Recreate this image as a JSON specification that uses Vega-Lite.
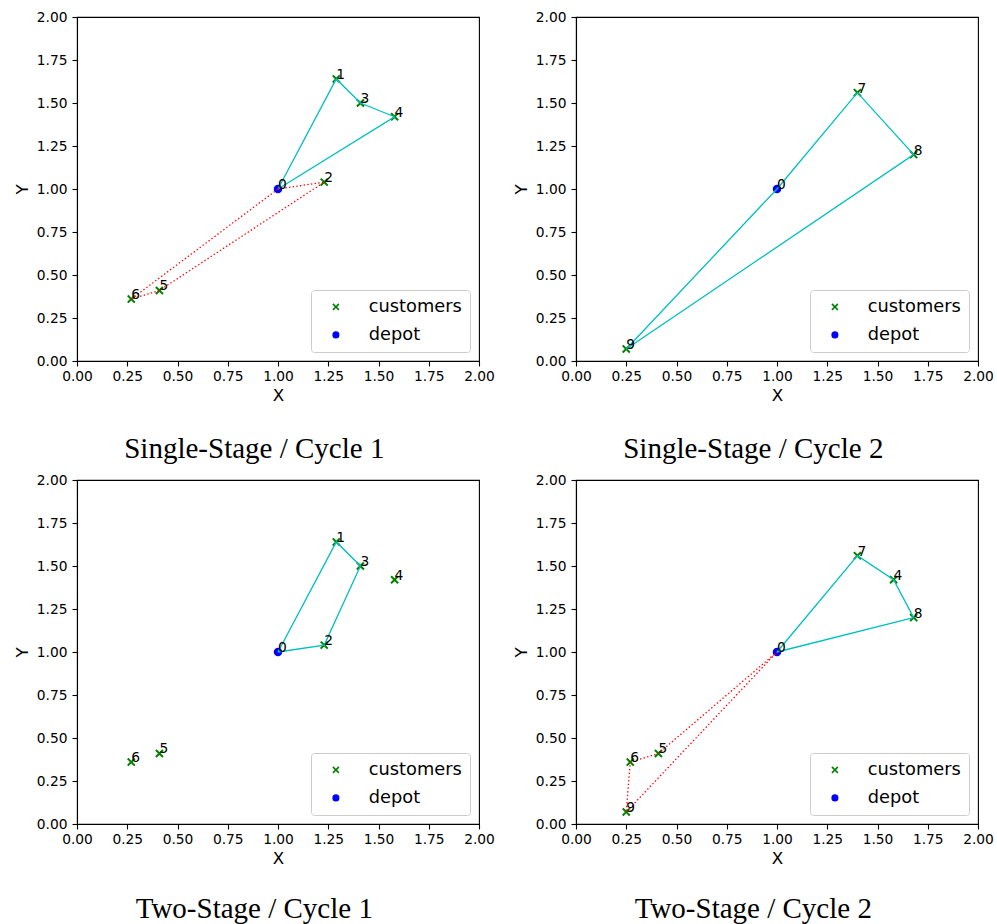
{
  "$schema": "https://vega.github.io/schema/vega-lite/v6.json",
  "background": "white",
  "padding": {"left": 13, "top": 9, "right": 2, "bottom": 0},
  "datasets": {
    "pts": [
      {"panel": "SS1", "id": "0", "kind": "depot", "x": 1.0, "y": 1.0},
      {"panel": "SS1", "id": "1", "kind": "customers", "x": 1.29, "y": 1.64},
      {"panel": "SS1", "id": "2", "kind": "customers", "x": 1.23, "y": 1.04},
      {"panel": "SS1", "id": "3", "kind": "customers", "x": 1.41, "y": 1.50},
      {"panel": "SS1", "id": "4", "kind": "customers", "x": 1.58, "y": 1.42},
      {"panel": "SS1", "id": "5", "kind": "customers", "x": 0.41, "y": 0.41},
      {"panel": "SS1", "id": "6", "kind": "customers", "x": 0.27, "y": 0.36},
      {"panel": "SS2", "id": "0", "kind": "depot", "x": 1.0, "y": 1.0},
      {"panel": "SS2", "id": "7", "kind": "customers", "x": 1.40, "y": 1.56},
      {"panel": "SS2", "id": "8", "kind": "customers", "x": 1.68, "y": 1.20},
      {"panel": "SS2", "id": "9", "kind": "customers", "x": 0.25, "y": 0.07},
      {"panel": "TS1", "id": "0", "kind": "depot", "x": 1.0, "y": 1.0},
      {"panel": "TS1", "id": "1", "kind": "customers", "x": 1.29, "y": 1.64},
      {"panel": "TS1", "id": "2", "kind": "customers", "x": 1.23, "y": 1.04},
      {"panel": "TS1", "id": "3", "kind": "customers", "x": 1.41, "y": 1.50},
      {"panel": "TS1", "id": "4", "kind": "customers", "x": 1.58, "y": 1.42},
      {"panel": "TS1", "id": "5", "kind": "customers", "x": 0.41, "y": 0.41},
      {"panel": "TS1", "id": "6", "kind": "customers", "x": 0.27, "y": 0.36},
      {"panel": "TS2", "id": "0", "kind": "depot", "x": 1.0, "y": 1.0},
      {"panel": "TS2", "id": "4", "kind": "customers", "x": 1.58, "y": 1.42},
      {"panel": "TS2", "id": "5", "kind": "customers", "x": 0.41, "y": 0.41},
      {"panel": "TS2", "id": "6", "kind": "customers", "x": 0.27, "y": 0.36},
      {"panel": "TS2", "id": "7", "kind": "customers", "x": 1.40, "y": 1.56},
      {"panel": "TS2", "id": "8", "kind": "customers", "x": 1.68, "y": 1.20},
      {"panel": "TS2", "id": "9", "kind": "customers", "x": 0.25, "y": 0.07}
    ],
    "routes": [
      {"panel": "SS1", "style": "solid", "route": "a", "seq": 0, "x": 1.0, "y": 1.0},
      {"panel": "SS1", "style": "solid", "route": "a", "seq": 1, "x": 1.29, "y": 1.64},
      {"panel": "SS1", "style": "solid", "route": "a", "seq": 2, "x": 1.41, "y": 1.50},
      {"panel": "SS1", "style": "solid", "route": "a", "seq": 3, "x": 1.58, "y": 1.42},
      {"panel": "SS1", "style": "solid", "route": "a", "seq": 4, "x": 1.0, "y": 1.0},
      {"panel": "SS1", "style": "dotted", "route": "b", "seq": 0, "x": 1.0, "y": 1.0},
      {"panel": "SS1", "style": "dotted", "route": "b", "seq": 1, "x": 1.23, "y": 1.04},
      {"panel": "SS1", "style": "dotted", "route": "b", "seq": 2, "x": 0.41, "y": 0.41},
      {"panel": "SS1", "style": "dotted", "route": "b", "seq": 3, "x": 0.27, "y": 0.36},
      {"panel": "SS1", "style": "dotted", "route": "b", "seq": 4, "x": 1.0, "y": 1.0},
      {"panel": "SS2", "style": "solid", "route": "a", "seq": 0, "x": 1.0, "y": 1.0},
      {"panel": "SS2", "style": "solid", "route": "a", "seq": 1, "x": 1.40, "y": 1.56},
      {"panel": "SS2", "style": "solid", "route": "a", "seq": 2, "x": 1.68, "y": 1.20},
      {"panel": "SS2", "style": "solid", "route": "a", "seq": 3, "x": 0.25, "y": 0.07},
      {"panel": "SS2", "style": "solid", "route": "a", "seq": 4, "x": 1.0, "y": 1.0},
      {"panel": "TS1", "style": "solid", "route": "a", "seq": 0, "x": 1.0, "y": 1.0},
      {"panel": "TS1", "style": "solid", "route": "a", "seq": 1, "x": 1.29, "y": 1.64},
      {"panel": "TS1", "style": "solid", "route": "a", "seq": 2, "x": 1.41, "y": 1.50},
      {"panel": "TS1", "style": "solid", "route": "a", "seq": 3, "x": 1.23, "y": 1.04},
      {"panel": "TS1", "style": "solid", "route": "a", "seq": 4, "x": 1.0, "y": 1.0},
      {"panel": "TS2", "style": "solid", "route": "a", "seq": 0, "x": 1.0, "y": 1.0},
      {"panel": "TS2", "style": "solid", "route": "a", "seq": 1, "x": 1.40, "y": 1.56},
      {"panel": "TS2", "style": "solid", "route": "a", "seq": 2, "x": 1.58, "y": 1.42},
      {"panel": "TS2", "style": "solid", "route": "a", "seq": 3, "x": 1.68, "y": 1.20},
      {"panel": "TS2", "style": "solid", "route": "a", "seq": 4, "x": 1.0, "y": 1.0},
      {"panel": "TS2", "style": "dotted", "route": "b", "seq": 0, "x": 1.0, "y": 1.0},
      {"panel": "TS2", "style": "dotted", "route": "b", "seq": 1, "x": 0.41, "y": 0.41},
      {"panel": "TS2", "style": "dotted", "route": "b", "seq": 2, "x": 0.27, "y": 0.36},
      {"panel": "TS2", "style": "dotted", "route": "b", "seq": 3, "x": 0.25, "y": 0.07},
      {"panel": "TS2", "style": "dotted", "route": "b", "seq": 4, "x": 1.0, "y": 1.0}
    ]
  },
  "columns": 2,
  "spacing": {"row": 7, "column": 17},
  "resolve": {
    "scale": {"x": "independent", "y": "independent", "color": "independent", "shape": "independent"},
    "legend": {"color": "independent", "shape": "independent"}
  },
  "concat": [
    {
      "width": 402, "height": 344,
      "title": {"text": "Single-Stage / Cycle 1"},
      "layer": [
        {"data": {"name": "pts"}, "transform": [{"filter": "datum.panel === 'SS1'"}],
         "mark": {"type": "point", "filled": true, "opacity": 1, "size": 72},
         "encoding": {
           "x": {"field": "x", "type": "quantitative", "scale": {"domain": [0, 2], "nice": false, "zero": false}, "title": "X", "axis": {"values": [0, 0.25, 0.5, 0.75, 1, 1.25, 1.5, 1.75, 2], "format": ".2f"}},
           "y": {"field": "y", "type": "quantitative", "scale": {"domain": [0, 2], "nice": false, "zero": false}, "title": "Y", "axis": {"values": [0, 0.25, 0.5, 0.75, 1, 1.25, 1.5, 1.75, 2], "format": ".2f"}},
           "color": {"field": "kind", "type": "nominal", "scale": {"domain": ["customers", "depot"], "range": ["#008000", "#0000ff"]}, "legend": {"title": null}},
           "shape": {"field": "kind", "type": "nominal", "scale": {"domain": ["customers", "depot"], "range": ["M0,-0.33L0.67,-1L1,-0.67L0.33,0L1,0.67L0.67,1L0,0.33L-0.67,1L-1,0.67L-0.33,0L-1,-0.67L-0.67,-1Z", "circle"]}, "legend": {"title": null}}
         }},
        {"data": {"name": "routes"}, "transform": [{"filter": "datum.panel === 'SS1' && datum.style === 'solid'"}],
         "mark": {"type": "line", "color": "#00bfbf", "strokeWidth": 1.3},
         "encoding": {"x": {"field": "x", "type": "quantitative"}, "y": {"field": "y", "type": "quantitative"}, "order": {"field": "seq", "type": "quantitative"}, "detail": {"field": "route"}}},
        {"data": {"name": "routes"}, "transform": [{"filter": "datum.panel === 'SS1' && datum.style === 'dotted'"}],
         "mark": {"type": "line", "color": "#ff0000", "strokeWidth": 1.3, "strokeDash": [1.4, 2.3]},
         "encoding": {"x": {"field": "x", "type": "quantitative"}, "y": {"field": "y", "type": "quantitative"}, "order": {"field": "seq", "type": "quantitative"}, "detail": {"field": "route"}}},
        {"data": {"name": "pts"}, "transform": [{"filter": "datum.panel === 'SS1'"}],
         "mark": {"type": "text", "align": "left", "baseline": "alphabetic", "font": "DejaVu Sans", "fontSize": 13.8, "color": "black"},
         "encoding": {"x": {"field": "x", "type": "quantitative"}, "y": {"field": "y", "type": "quantitative"}, "text": {"field": "id"}}}
      ]
    },
    {
      "width": 402, "height": 344,
      "title": {"text": "Single-Stage / Cycle 2"},
      "layer": [
        {"data": {"name": "pts"}, "transform": [{"filter": "datum.panel === 'SS2'"}],
         "mark": {"type": "point", "filled": true, "opacity": 1, "size": 72},
         "encoding": {
           "x": {"field": "x", "type": "quantitative", "scale": {"domain": [0, 2], "nice": false, "zero": false}, "title": "X", "axis": {"values": [0, 0.25, 0.5, 0.75, 1, 1.25, 1.5, 1.75, 2], "format": ".2f"}},
           "y": {"field": "y", "type": "quantitative", "scale": {"domain": [0, 2], "nice": false, "zero": false}, "title": "Y", "axis": {"values": [0, 0.25, 0.5, 0.75, 1, 1.25, 1.5, 1.75, 2], "format": ".2f"}},
           "color": {"field": "kind", "type": "nominal", "scale": {"domain": ["customers", "depot"], "range": ["#008000", "#0000ff"]}, "legend": {"title": null}},
           "shape": {"field": "kind", "type": "nominal", "scale": {"domain": ["customers", "depot"], "range": ["M0,-0.33L0.67,-1L1,-0.67L0.33,0L1,0.67L0.67,1L0,0.33L-0.67,1L-1,0.67L-0.33,0L-1,-0.67L-0.67,-1Z", "circle"]}, "legend": {"title": null}}
         }},
        {"data": {"name": "routes"}, "transform": [{"filter": "datum.panel === 'SS2' && datum.style === 'solid'"}],
         "mark": {"type": "line", "color": "#00bfbf", "strokeWidth": 1.3},
         "encoding": {"x": {"field": "x", "type": "quantitative"}, "y": {"field": "y", "type": "quantitative"}, "order": {"field": "seq", "type": "quantitative"}, "detail": {"field": "route"}}},
        {"data": {"name": "pts"}, "transform": [{"filter": "datum.panel === 'SS2'"}],
         "mark": {"type": "text", "align": "left", "baseline": "alphabetic", "font": "DejaVu Sans", "fontSize": 13.8, "color": "black"},
         "encoding": {"x": {"field": "x", "type": "quantitative"}, "y": {"field": "y", "type": "quantitative"}, "text": {"field": "id"}}}
      ]
    },
    {
      "width": 402, "height": 344,
      "title": {"text": "Two-Stage / Cycle 1", "offset": 27},
      "layer": [
        {"data": {"name": "pts"}, "transform": [{"filter": "datum.panel === 'TS1'"}],
         "mark": {"type": "point", "filled": true, "opacity": 1, "size": 72},
         "encoding": {
           "x": {"field": "x", "type": "quantitative", "scale": {"domain": [0, 2], "nice": false, "zero": false}, "title": "X", "axis": {"values": [0, 0.25, 0.5, 0.75, 1, 1.25, 1.5, 1.75, 2], "format": ".2f"}},
           "y": {"field": "y", "type": "quantitative", "scale": {"domain": [0, 2], "nice": false, "zero": false}, "title": "Y", "axis": {"values": [0, 0.25, 0.5, 0.75, 1, 1.25, 1.5, 1.75, 2], "format": ".2f"}},
           "color": {"field": "kind", "type": "nominal", "scale": {"domain": ["customers", "depot"], "range": ["#008000", "#0000ff"]}, "legend": {"title": null}},
           "shape": {"field": "kind", "type": "nominal", "scale": {"domain": ["customers", "depot"], "range": ["M0,-0.33L0.67,-1L1,-0.67L0.33,0L1,0.67L0.67,1L0,0.33L-0.67,1L-1,0.67L-0.33,0L-1,-0.67L-0.67,-1Z", "circle"]}, "legend": {"title": null}}
         }},
        {"data": {"name": "routes"}, "transform": [{"filter": "datum.panel === 'TS1' && datum.style === 'solid'"}],
         "mark": {"type": "line", "color": "#00bfbf", "strokeWidth": 1.3},
         "encoding": {"x": {"field": "x", "type": "quantitative"}, "y": {"field": "y", "type": "quantitative"}, "order": {"field": "seq", "type": "quantitative"}, "detail": {"field": "route"}}},
        {"data": {"name": "pts"}, "transform": [{"filter": "datum.panel === 'TS1'"}],
         "mark": {"type": "text", "align": "left", "baseline": "alphabetic", "font": "DejaVu Sans", "fontSize": 13.8, "color": "black"},
         "encoding": {"x": {"field": "x", "type": "quantitative"}, "y": {"field": "y", "type": "quantitative"}, "text": {"field": "id"}}}
      ]
    },
    {
      "width": 402, "height": 344,
      "title": {"text": "Two-Stage / Cycle 2", "offset": 27},
      "layer": [
        {"data": {"name": "pts"}, "transform": [{"filter": "datum.panel === 'TS2'"}],
         "mark": {"type": "point", "filled": true, "opacity": 1, "size": 72},
         "encoding": {
           "x": {"field": "x", "type": "quantitative", "scale": {"domain": [0, 2], "nice": false, "zero": false}, "title": "X", "axis": {"values": [0, 0.25, 0.5, 0.75, 1, 1.25, 1.5, 1.75, 2], "format": ".2f"}},
           "y": {"field": "y", "type": "quantitative", "scale": {"domain": [0, 2], "nice": false, "zero": false}, "title": "Y", "axis": {"values": [0, 0.25, 0.5, 0.75, 1, 1.25, 1.5, 1.75, 2], "format": ".2f"}},
           "color": {"field": "kind", "type": "nominal", "scale": {"domain": ["customers", "depot"], "range": ["#008000", "#0000ff"]}, "legend": {"title": null}},
           "shape": {"field": "kind", "type": "nominal", "scale": {"domain": ["customers", "depot"], "range": ["M0,-0.33L0.67,-1L1,-0.67L0.33,0L1,0.67L0.67,1L0,0.33L-0.67,1L-1,0.67L-0.33,0L-1,-0.67L-0.67,-1Z", "circle"]}, "legend": {"title": null}}
         }},
        {"data": {"name": "routes"}, "transform": [{"filter": "datum.panel === 'TS2' && datum.style === 'solid'"}],
         "mark": {"type": "line", "color": "#00bfbf", "strokeWidth": 1.3},
         "encoding": {"x": {"field": "x", "type": "quantitative"}, "y": {"field": "y", "type": "quantitative"}, "order": {"field": "seq", "type": "quantitative"}, "detail": {"field": "route"}}},
        {"data": {"name": "routes"}, "transform": [{"filter": "datum.panel === 'TS2' && datum.style === 'dotted'"}],
         "mark": {"type": "line", "color": "#ff0000", "strokeWidth": 1.3, "strokeDash": [1.4, 2.3]},
         "encoding": {"x": {"field": "x", "type": "quantitative"}, "y": {"field": "y", "type": "quantitative"}, "order": {"field": "seq", "type": "quantitative"}, "detail": {"field": "route"}}},
        {"data": {"name": "pts"}, "transform": [{"filter": "datum.panel === 'TS2'"}],
         "mark": {"type": "text", "align": "left", "baseline": "alphabetic", "font": "DejaVu Sans", "fontSize": 13.8, "color": "black"},
         "encoding": {"x": {"field": "x", "type": "quantitative"}, "y": {"field": "y", "type": "quantitative"}, "text": {"field": "id"}}}
      ]
    }
  ],
  "config": {
    "view": {"stroke": "black", "strokeWidth": 1.1},
    "axis": {
      "grid": false, "domainColor": "black", "domainWidth": 1.1, "tickColor": "black", "tickWidth": 1.1, "tickSize": 5,
      "labelColor": "black", "labelFont": "DejaVu Sans", "labelFontSize": 13.8, "labelPadding": 4,
      "titleColor": "black", "titleFont": "DejaVu Sans", "titleFontSize": 16.7, "titleFontWeight": "normal",
      "labelFlush": false, "labelOverlap": false
    },
    "axisX": {"titlePadding": 5, "labelPadding": 3},
    "axisY": {"titlePadding": 5, "labelPadding": 5},
    "legend": {
      "orient": "bottom-right", "offset": 9, "labelFont": "DejaVu Sans", "labelFontSize": 17.8, "labelColor": "black",
      "symbolSize": 50, "strokeColor": "#cccccc", "fillColor": "rgba(255,255,255,0.8)", "cornerRadius": 3,
      "padding": 8, "rowPadding": 9, "labelOffset": 24, "symbolOffset": 8
    },
    "title": {
      "orient": "bottom", "anchor": "middle", "frame": "bounds", "font": "Liberation Serif", "fontSize": 29,
      "fontWeight": "normal", "color": "black", "offset": 30
    }
  }
}
